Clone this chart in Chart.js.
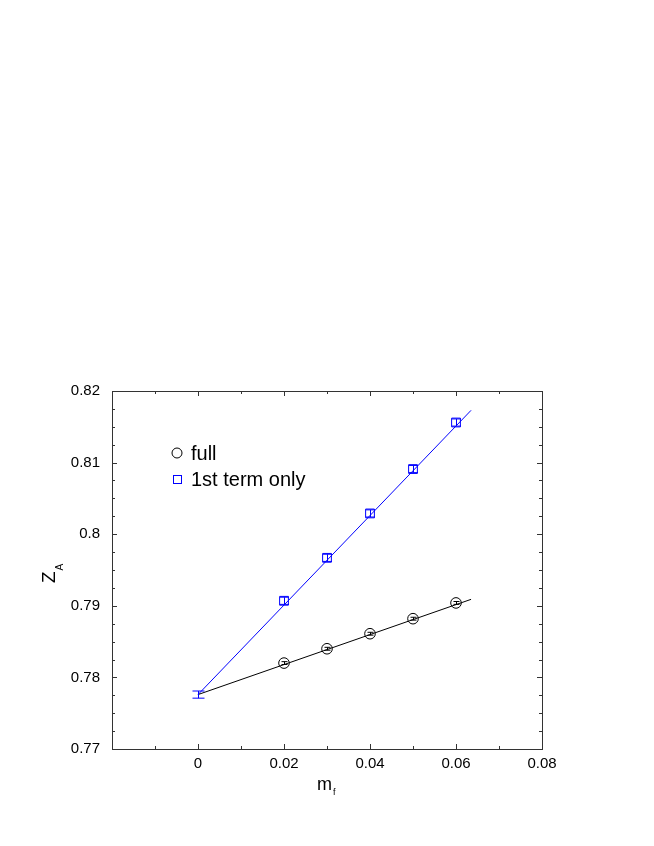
<!DOCTYPE html>
<html>
<head>
<meta charset="utf-8">
<script src="https://cdn.jsdelivr.net/npm/chart.js@4.4.1/dist/chart.umd.min.js"></script>
<style>
html, body { margin: 0; padding: 0; background: #fff; }
</style>
</head>
<body>
<canvas id="zaChart" width="654" height="846"></canvas>
<script>
// Z_A against m_f, full vs 1st term only, with linear fits to m_f = 0

const mf = [0.02, 0.03, 0.04, 0.05, 0.06];
const zaFull = [0.7820, 0.7840, 0.7861, 0.7882, 0.7904];
const errFull = [0.0002, 0.0002, 0.0002, 0.0002, 0.0002];
const zaFirst = [0.7907, 0.7967, 0.8029, 0.8091, 0.8156];
const errFirst = [0.0005, 0.0005, 0.0005, 0.0005, 0.0005];

// chiral limit value and error
const chiralX = [0];
const chiralZa = [0.7776];
const chiralErr = [0.0005];

// fit lines
const fitX = [0, 0.0635];
const fitFull = [0.7776, 0.7909];
const fitFirst = [0.7776, 0.8173];

const xMajor = [-0.02, 0, 0.02, 0.04, 0.06, 0.08];
const xMinor = [-0.01, 0.01, 0.03, 0.05, 0.07];
const yMajor = [0.77, 0.78, 0.79, 0.80, 0.81, 0.82];
const yMinor = [0.7725, 0.775, 0.7775, 0.7825, 0.785, 0.7875, 0.7925, 0.795, 0.7975,
                0.8025, 0.805, 0.8075, 0.8125, 0.815, 0.8175];

const FONT = '"Liberation Sans", Arial, Helvetica, sans-serif';
const BLUE = '#0000ff';

const pts = (xs, ys) => xs.map((x, i) => ({x: x, y: ys[i]}));

// error bars, frame, inward ticks, axis titles and legend
const extras = {
  id: 'extras',
  afterDatasetsDraw(chart) {
    const {ctx, scales: {x, y}} = chart;
    const bars = (xs, ys, es, color, half) => {
      ctx.strokeStyle = color;
      ctx.lineWidth = 1;
      xs.forEach((v, i) => {
        const px = Math.round(x.getPixelForValue(v)) + 0.5;
        const top = y.getPixelForValue(ys[i] + es[i]);
        const bot = y.getPixelForValue(ys[i] - es[i]);
        ctx.beginPath();
        ctx.moveTo(px, top); ctx.lineTo(px, bot);
        ctx.moveTo(px - half, top); ctx.lineTo(px + half, top);
        ctx.moveTo(px - half, bot); ctx.lineTo(px + half, bot);
        ctx.stroke();
      });
    };
    ctx.save();
    bars(mf, zaFull, errFull, '#000', 3);
    bars(mf, zaFirst, errFirst, BLUE, 4.5);
    bars(chiralX, chiralZa, chiralErr, BLUE, 6);
    ctx.restore();
  },
  afterDraw(chart) {
    const {ctx, chartArea: a, scales: {x, y}} = chart;
    ctx.save();
    ctx.strokeStyle = '#333';
    ctx.lineWidth = 1;
    ctx.strokeRect(a.left + 0.5, a.top + 0.5, a.right - a.left, a.bottom - a.top);

    ctx.beginPath();
    const xt = (v, len) => {
      const px = Math.round(x.getPixelForValue(v)) + 0.5;
      ctx.moveTo(px, a.bottom); ctx.lineTo(px, a.bottom - len);
      ctx.moveTo(px, a.top); ctx.lineTo(px, a.top + len);
    };
    const yt = (v, len) => {
      const py = Math.round(y.getPixelForValue(v)) + 0.5;
      ctx.moveTo(a.left, py); ctx.lineTo(a.left + len, py);
      ctx.moveTo(a.right, py); ctx.lineTo(a.right - len, py);
    };
    xMajor.forEach(v => xt(v, 5));
    xMinor.forEach(v => xt(v, 3));
    yMajor.forEach(v => yt(v, 5));
    yMinor.forEach(v => yt(v, 3));
    ctx.stroke();

    // axis titles with subscripts
    ctx.fillStyle = '#000';
    ctx.textBaseline = 'alphabetic';
    ctx.textAlign = 'left';
    ctx.font = '18px ' + FONT;
    const mW = ctx.measureText('m').width;
    const cx = (a.left + a.right) / 2;
    ctx.fillText('m', cx - 10, 790);
    ctx.font = '9px ' + FONT;
    ctx.fillText('f', cx - 10 + mW + 1, 795);

    const cy = (a.top + a.bottom) / 2;
    ctx.save();
    ctx.translate(55, cy + 13);
    ctx.rotate(-Math.PI / 2);
    ctx.font = '19px ' + FONT;
    const zW = ctx.measureText('Z').width;
    ctx.fillText('Z', 0, 0);
    ctx.font = '10px ' + FONT;
    ctx.fillText('A', zW + 1, 8);
    ctx.restore();

    // legend
    ctx.font = '20px ' + FONT;
    ctx.strokeStyle = '#000';
    ctx.beginPath();
    ctx.arc(177, 453, 5, 0, Math.PI * 2);
    ctx.stroke();
    ctx.fillText('full', 191, 460);
    ctx.strokeStyle = BLUE;
    ctx.strokeRect(173.5, 475.5, 8, 8);
    ctx.fillText('1st term only', 191, 486);
    ctx.restore();
  }
};

const fmt = v => parseFloat(v.toFixed(4)).toString();

new Chart(document.getElementById('zaChart'), {
  type: 'scatter',
  data: {
    datasets: [
      {
        label: 'full',
        data: pts(mf, zaFull),
        pointStyle: 'circle',
        pointRadius: 5.3,
        borderColor: '#000',
        backgroundColor: 'rgba(0,0,0,0)',
        borderWidth: 1,
        showLine: false
      },
      {
        label: '1st term only',
        data: pts(mf, zaFirst),
        pointStyle: 'rect',
        pointRadius: 6.2,
        borderColor: BLUE,
        backgroundColor: 'rgba(0,0,0,0)',
        borderWidth: 1,
        showLine: false
      },
      {
        label: 'fit full',
        data: pts(fitX, fitFull),
        showLine: true,
        pointRadius: 0,
        borderColor: '#000',
        borderWidth: 1
      },
      {
        label: 'fit 1st',
        data: pts(fitX, fitFirst),
        showLine: true,
        pointRadius: 0,
        borderColor: BLUE,
        borderWidth: 1
      }
    ]
  },
  options: {
    responsive: false,
    animation: false,
    events: [],
    layout: { padding: { left: 0, top: 391, right: 112, bottom: 0 } },
    plugins: {
      legend: { display: false },
      tooltip: { enabled: false }
    },
    scales: {
      x: {
        type: 'linear',
        min: -0.02,
        max: 0.08,
        afterFit: s => { s.height = 97; },
        afterBuildTicks: s => { s.ticks = xMajor.map(v => ({value: v})); },
        grid: { display: false, drawTicks: false },
        border: { display: false },
        ticks: {
          padding: 6,
          maxRotation: 0,
          autoSkip: false,
          color: '#000',
          font: { family: FONT, size: 15 },
          callback: v => (v < -0.01 ? '' : fmt(v))
        }
      },
      y: {
        type: 'linear',
        min: 0.77,
        max: 0.82,
        afterFit: s => { s.width = 112; },
        afterBuildTicks: s => { s.ticks = yMajor.map(v => ({value: v})); },
        grid: { display: false, drawTicks: false },
        border: { display: false },
        ticks: {
          padding: 12,
          autoSkip: false,
          color: '#000',
          font: { family: FONT, size: 15 },
          callback: v => fmt(v)
        }
      }
    }
  },
  plugins: [extras]
});
</script>
</body>
</html>
